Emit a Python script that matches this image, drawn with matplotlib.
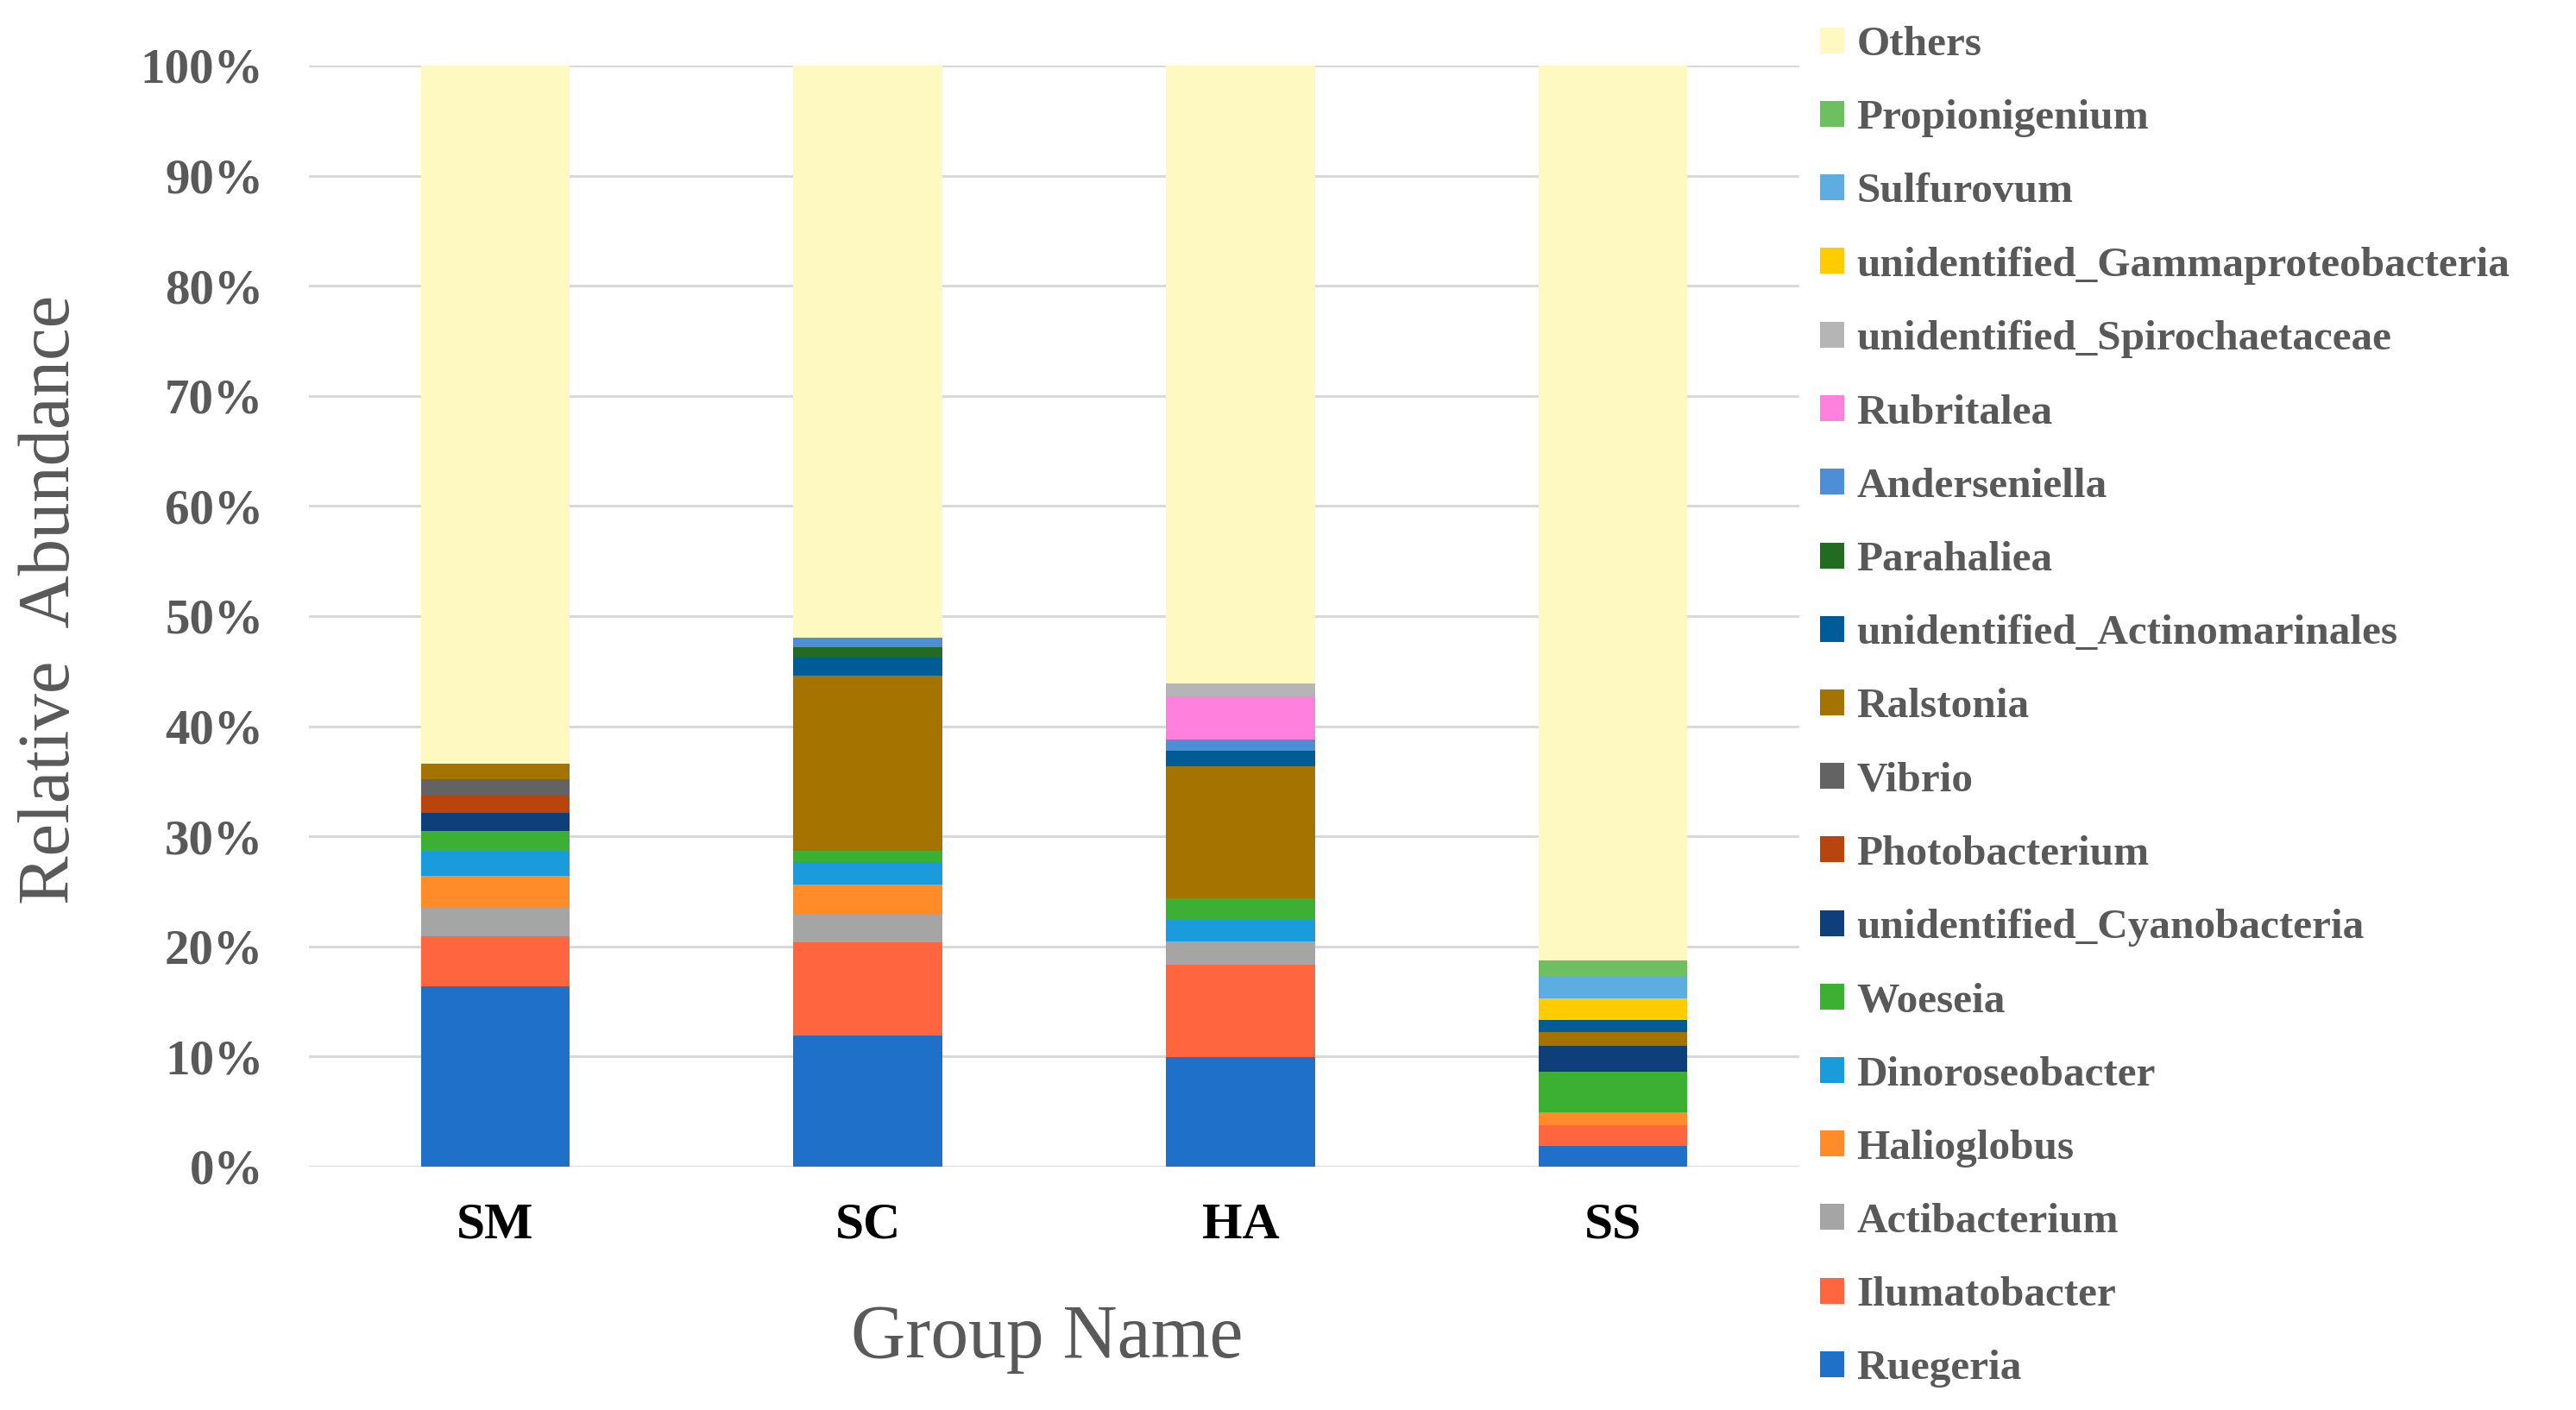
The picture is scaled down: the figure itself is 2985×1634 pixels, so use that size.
import numpy as np
import matplotlib.pyplot as plt
from matplotlib.patches import Patch

plt.rcParams['font.family'] = ['Liberation Serif', 'DejaVu Serif']

groups = ["SM", "SC", "HA", "SS"]

genera = [
    "Ruegeria", "Ilumatobacter", "Actibacterium", "Halioglobus",
    "Dinoroseobacter", "Woeseia", "unidentified_Cyanobacteria",
    "Photobacterium", "Vibrio", "Ralstonia",
    "unidentified_Actinomarinales", "Parahaliea", "Anderseniella",
    "Rubritalea", "unidentified_Spirochaetaceae",
    "unidentified_Gammaproteobacteria", "Sulfurovum", "Propionigenium",
    "Others",
]

colors = [
    "#1F70C8", "#FF6640", "#A5A5A5", "#FF8C28",
    "#1A9BDB", "#3CB033", "#0E3F7A",
    "#B8450D", "#636363", "#A57300",
    "#005C96", "#216C21", "#4D8ED6",
    "#FF80DD", "#B5B5B5",
    "#FFCC00", "#5DADE2", "#6DBF5F",
    "#FEF9C0",
]

# relative abundance (%) per group, same order as genera
sm = [16.4, 4.5, 2.6, 2.9, 2.3, 1.8, 1.6, 1.6, 1.5, 1.4,
      0.0, 0.0, 0.0, 0.0, 0.0, 0.0, 0.0, 0.0, 63.4]
sc = [11.95, 8.4, 2.6, 2.65, 2.1, 1.0, 0.0, 0.0, 0.0, 15.9,
      1.65, 0.95, 0.85, 0.0, 0.0, 0.0, 0.0, 0.0, 51.95]
ha = [9.95, 8.4, 2.1, 0.0, 1.95, 1.95, 0.0, 0.0, 0.0, 12.0,
      1.45, 0.0, 1.0, 3.9, 1.15, 0.0, 0.0, 0.0, 56.15]
ss = [1.9, 1.9, 0.0, 1.1, 0.0, 3.7, 2.4, 0.0, 0.0, 1.2,
      1.1, 0.0, 0.0, 0.0, 0.0, 2.0, 2.0, 1.4, 81.3]

data = np.array([sm, sc, ha, ss]).T / 100.0  # rows = genera, cols = groups

W, H = 2985, 1634
fig = plt.figure(figsize=(W / 100, H / 100), dpi=100)
ax = fig.add_axes([358 / W, 1 - 1352 / H, (2085 - 358) / W, (1352 - 76) / H])

x = np.arange(len(groups))
bottom = np.zeros(len(groups))
for name, col, vals in zip(genera, colors, data):
    ax.bar(x, vals, 0.4, bottom=bottom, color=col, edgecolor="none", zorder=3)
    bottom += vals

ax.set_xlim(-0.5, 3.5)
ax.set_ylim(0, 1)
ax.set_yticks(np.arange(0, 1.01, 0.1))
ax.set_yticklabels([f"{int(round(v * 100))}%" for v in np.arange(0, 1.01, 0.1)])
ax.set_xticks(x)
ax.set_xticklabels(groups)
ax.grid(axis="y", color="#D9D9D9", linewidth=2.2, zorder=0)
for s in ax.spines.values():
    s.set_visible(False)
ax.tick_params(axis="both", length=0)
ax.tick_params(axis="y", pad=38, labelsize=41, labelcolor="#595959")
ax.tick_params(axis="x", pad=30, labelsize=43, labelcolor="black")
for t in ax.get_yticklabels() + ax.get_xticklabels():
    t.set_fontweight("bold")

fig.text(60 / W, 1 - 695 / H, "Relative  Abundance", rotation=90,
         ha="center", va="center", fontsize=61, color="#595959")
fig.text(1213 / W, 1 - 1552 / H, "Group Name", ha="center", va="center",
         fontsize=63, color="#595959")

handles = [Patch(facecolor=c, edgecolor="none") for c in colors][::-1]
labels = genera[::-1]
leg = fig.legend(handles, labels, loc="upper left",
                 bbox_to_anchor=(2109 / W, 1 - 30 / H), frameon=False,
                 borderpad=0, borderaxespad=0, labelspacing=0.835,
                 handlelength=0.56, handleheight=0.56, handletextpad=0.3,
                 prop={"size": 35.5, "weight": "bold"})
for t in leg.get_texts():
    t.set_color("#595959")

fig.savefig("out.png", dpi=100)
